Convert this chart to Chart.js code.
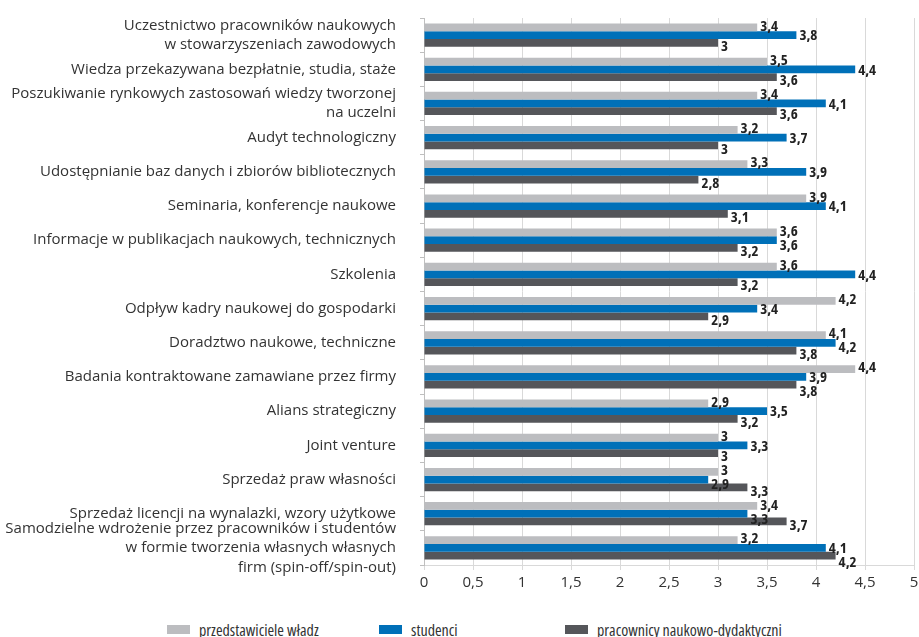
<!DOCTYPE html>
<html>
<head>
<meta charset="utf-8">
<script src="https://cdn.jsdelivr.net/npm/chart.js@4"></script>
<style>
  html, body { margin: 0; padding: 0; background: #fff; overflow: hidden; }
  #wrap { position: relative; width: 919px; height: 637px; }
  #legend { position: absolute; left: 0; top: 619px; width: 919px; height: 30px; font-family: "Open Sans", sans-serif; font-stretch: 75%; font-size: 16px; color: #333; }
  .item { position: absolute; top: 0; white-space: nowrap; }
  .box { display: inline-block; width: 23px; height: 9px; margin-right: 9px; vertical-align: 2px; }
</style>
</head>
<body>
<div id="wrap">
  <canvas id="chart" width="919" height="600"></canvas>
  <div id="legend"></div>
</div>
<script>
// Kategorie (oś Y)
const categories = [
    ['Uczestnictwo pracowników naukowych', 'w stowarzyszeniach zawodowych'],
    'Wiedza przekazywana bezpłatnie, studia, staże',
    ['Poszukiwanie rynkowych zastosowań wiedzy tworzonej', 'na uczelni'],
    'Audyt technologiczny',
    'Udostępnianie baz danych i zbiorów bibliotecznych',
    'Seminaria, konferencje naukowe',
    'Informacje w publikacjach naukowych, technicznych',
    'Szkolenia',
    'Odpływ kadry naukowej do gospodarki',
    'Doradztwo naukowe, techniczne',
    'Badania kontraktowane zamawiane przez firmy',
    'Alians strategiczny',
    'Joint venture',
    'Sprzedaż praw własności',
    'Sprzedaż licencji na wynalazki, wzory użytkowe',
    ['Samodzielne wdrożenie przez pracowników i studentów', 'w formie tworzenia własnych własnych', 'firm (spin-off/spin-out)']
];

// Serie danych
const wladze = [3.4, 3.5, 3.4, 3.2, 3.3, 3.9, 3.6, 3.6, 4.2, 4.1, 4.4, 2.9, 3, 3, 3.4, 3.2];
const studenci = [3.8, 4.4, 4.1, 3.7, 3.9, 4.1, 3.6, 4.4, 3.4, 4.2, 3.9, 3.5, 3.3, 2.9, 3.3, 4.1];
const pracownicy = [3, 3.6, 3.6, 3, 2.8, 3.1, 3.2, 3.2, 2.9, 3.8, 3.8, 3.2, 3, 3.3, 3.7, 4.2];

const seriesNames = ['przedstawiciele władz', 'studenci', 'pracownicy naukowo-dydaktyczni'];
const seriesColors = ['#bcbdc0', '#0070b8', '#55565a'];
const legendX = [167, 379, 565];

const FONT = '"Open Sans", sans-serif';
const fmt = v => String(v).replace('.', ',');

// Etykiety wartości przy słupkach (proste rozsuwanie nachodzących etykiet)
const labelShift = [-1, 1, 4];
const valueLabels = {
    id: 'valueLabels',
    afterDatasetsDraw(chart) {
        const ctx = chart.ctx;
        ctx.save();
        ctx.font = 'bold 15px ' + FONT;
        ctx.fontStretch = 'condensed';
        ctx.textBaseline = 'middle';
        const items = [];
        chart.data.labels.forEach((_, j) => {
            chart.data.datasets.forEach((ds, i) => {
                const bar = chart.getDatasetMeta(i).data[j];
                const txt = fmt(ds.data[j]);
                items.push({ txt, x: bar.x + 3, y: bar.y + labelShift[i], w: ctx.measureText(txt).width });
            });
        });
        items.forEach((it, k) => {
            for (let p = Math.max(0, k - 3); p < k; p++) {
                const q = items[p];
                const overlapX = it.x < q.x + q.w && q.x < it.x + it.w;
                if (overlapX && it.y - q.y < 14) it.y = q.y + 14;
            }
            ctx.fillStyle = '#222';
            ctx.fillText(it.txt, it.x, it.y);
        });
        ctx.restore();
    }
};

new Chart(document.getElementById('chart').getContext('2d'), {
    type: 'bar',
    data: {
        labels: categories,
        datasets: [
            { label: seriesNames[0], data: wladze, backgroundColor: seriesColors[0] },
            { label: seriesNames[1], data: studenci, backgroundColor: seriesColors[1] },
            { label: seriesNames[2], data: pracownicy, backgroundColor: seriesColors[2] }
        ]
    },
    options: {
        indexAxis: 'y',
        responsive: false,
        animation: false,
        devicePixelRatio: 1,
        categoryPercentage: 0.68,
        barPercentage: 1.0,
        layout: { padding: { top: 18, right: 5, left: 0, bottom: 0 } },
        plugins: {
            legend: { display: false },
            tooltip: { enabled: false }
        },
        scales: {
            x: {
                min: 0,
                max: 5,
                ticks: { stepSize: 0.5, callback: v => fmt(v), font: { family: FONT, size: 15 }, color: '#333', padding: 4 },
                grid: { color: '#d9d9d9', tickLength: 5 },
                border: { color: '#d9d9d9' },
                afterFit: s => { s.height = 35; s.paddingLeft = 0; s.paddingRight = 0; }
            },
            y: {
                ticks: { font: { family: FONT, size: 15, lineHeight: 1.3 }, color: '#333', padding: 24, autoSkip: false },
                grid: { drawOnChartArea: false, tickLength: 4, color: '#bfbfbf' },
                border: { color: '#bfbfbf' },
                afterFit: s => { s.width = 424; s.paddingTop = 0; s.paddingBottom = 0; }
            }
        }
    },
    plugins: [valueLabels]
});

// Legenda pod wykresem
const legend = document.getElementById('legend');
seriesNames.forEach((name, i) => {
    const item = document.createElement('div');
    item.className = 'item';
    item.style.left = legendX[i] + 'px';
    const box = document.createElement('span');
    box.className = 'box';
    box.style.background = seriesColors[i];
    item.appendChild(box);
    item.appendChild(document.createTextNode(name));
    legend.appendChild(item);
});
</script>
</body>
</html>
